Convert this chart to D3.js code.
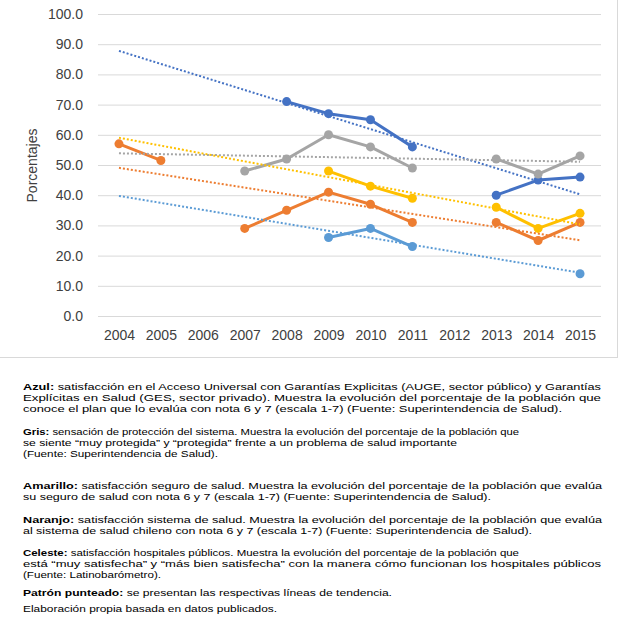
<!DOCTYPE html>
<html lang="es">
<head>
    <meta charset="UTF-8">
    <title>Satisfacción salud</title>
    <style>
        body { margin: 0; background: #fff; }
        text { font-family: "Liberation Sans", Arial, sans-serif; }
        .tick text { fill: #404040; font-size: 14px; }
        .caption { font-size: 12px; fill: #000; }
        .caption .b { font-weight: bold; }
    </style>
    <script src="https://d3js.org/d3.v7.min.js"></script>
</head>
<body>
    <svg width="620" height="622"></svg>
    <script>
        // data
        const years = ["2004", "2005", "2006", "2007", "2008", "2009", "2010", "2011", "2012", "2013", "2014", "2015"];
        const azul     = [null, null, null, null, 71, 67, 65, 56, null, 40, 45, 46];
        const naranjo  = [57, 51.5, null, 29, 35, 41, 37, 31, null, 31, 25, 31];
        const gris     = [null, null, null, 48, 52, 60, 56, 49, null, 52, 47, 53];
        const amarillo = [null, null, null, null, null, 48, 43, 39, null, 36, 29, 34];
        const celeste  = [null, null, null, null, null, 26, 29, 23, null, null, null, 14];
        const yTicks = [0, 10, 20, 30, 40, 50, 60, 70, 80, 90, 100];

        const series = [
            { name: "Azul", values: azul, color: "#4472C4" },
            { name: "Naranjo", values: naranjo, color: "#ED7D31" },
            { name: "Gris", values: gris, color: "#A5A5A5" },
            { name: "Amarillo", values: amarillo, color: "#FFC000" },
            { name: "Celeste", values: celeste, color: "#5B9BD5" }
        ];

        const svg = d3.select("svg");

        // chart frame (left/top edges fall outside the picture)
        svg.append("rect")
            .attr("x", -2).attr("y", -2)
            .attr("width", 619.5).attr("height", 359.5)
            .attr("fill", "none").attr("stroke", "#d9d9d9");

        const x = d3.scalePoint().domain(years).range([98, 601]).padding(0.5);
        const y = d3.scaleLinear().domain([0, 100]).range([316, 14]);

        // gridlines + y labels
        const yAxis = svg.append("g")
            .attr("transform", "translate(98,0)")
            .call(d3.axisLeft(y).tickValues(yTicks).tickFormat(d3.format(".1f"))
                .tickSize(-503).tickPadding(15));
        yAxis.select(".domain").remove();
        yAxis.selectAll(".tick line").attr("stroke", "#d9d9d9").attr("stroke-width", 1);

        const xAxis = svg.append("g")
            .attr("transform", "translate(0,316)")
            .call(d3.axisBottom(x).tickSize(0).tickPadding(14));
        xAxis.select(".domain").remove();

        svg.append("text")
            .attr("transform", "translate(37,165.5) rotate(-90)")
            .attr("text-anchor", "middle")
            .attr("font-size", 14)
            .attr("fill", "#404040")
            .text("Porcentajes");

        const line = d3.line()
            .defined(d => d.v != null)
            .x(d => x(d.year))
            .y(d => y(d.v));

        series.forEach(s => {
            const pts = years.map((yr, i) => ({ year: yr, v: s.values[i] }));
            svg.append("path")
                .datum(pts)
                .attr("d", line)
                .attr("fill", "none")
                .attr("stroke", s.color)
                .attr("stroke-width", 3)
                .attr("stroke-linejoin", "round");
            svg.append("g").selectAll("circle")
                .data(pts.filter(d => d.v != null))
                .join("circle")
                .attr("cx", d => x(d.year))
                .attr("cy", d => y(d.v))
                .attr("r", 4.5)
                .attr("fill", s.color);
        });

        // linear trend lines (least squares over category index)
        series.forEach(s => {
            const pts = s.values.map((v, i) => [i + 1, v]).filter(p => p[1] != null);
            const mx = d3.mean(pts, p => p[0]), my = d3.mean(pts, p => p[1]);
            const slope = d3.sum(pts, p => (p[0] - mx) * (p[1] - my)) / d3.sum(pts, p => (p[0] - mx) ** 2);
            const f = t => my + slope * (t - mx);
            svg.append("line")
                .attr("x1", x(years[0])).attr("y1", y(f(1)))
                .attr("x2", x(years[years.length - 1])).attr("y2", y(f(years.length)))
                .attr("stroke", s.color)
                .attr("stroke-width", 2)
                .attr("stroke-dasharray", "2 2");
        });

        // notes under the chart
        const notes = [
            { y: 390, w: 578, b: "Azul:", t: " satisfacción en el Acceso Universal con Garantías Explicitas (AUGE, sector público) y Garantías" },
            { y: 401, w: 578, b: "", t: "Explícitas en Salud (GES, sector privado). Muestra la evolución del porcentaje de la población que" },
            { y: 412, w: 539, b: "", t: "conoce el plan que lo evalúa con nota 6 y 7 (escala 1-7) (Fuente: Superintendencia de Salud)." },
            { y: 435, w: 496, b: "Gris:", t: " sensación de protección del sistema. Muestra la evolución del porcentaje de la población que" },
            { y: 446, w: 434, b: "", t: "se siente “muy protegida” y “protegida” frente a un problema de salud importante" },
            { y: 457, w: 195, b: "", t: "(Fuente: Superintendencia de Salud)." },
            { y: 489, w: 579, b: "Amarillo:", t: " satisfacción seguro de salud. Muestra la evolución del porcentaje de la población que evalúa" },
            { y: 500, w: 468, b: "", t: "su seguro de salud con nota 6 y 7 (escala 1-7) (Fuente: Superintendencia de Salud)." },
            { y: 523, w: 579, b: "Naranjo:", t: " satisfacción sistema de salud. Muestra la evolución del porcentaje de la población que evalúa" },
            { y: 534, w: 509, b: "", t: "al sistema de salud chileno con nota 6 y 7 (escala 1-7) (Fuente: Superintendencia de Salud)." },
            { y: 556, w: 496, b: "Celeste:", t: " satisfacción hospitales públicos. Muestra la evolución del porcentaje de la población que" },
            { y: 567, w: 578, b: "", t: "está “muy satisfecha” y “más bien satisfecha” con la manera cómo funcionan los hospitales públicos" },
            { y: 578, w: 138, b: "", t: "(Fuente: Latinobarómetro)." },
            { y: 596, w: 369, b: "Patrón punteado:", t: " se presentan las respectivas líneas de tendencia." },
            { y: 612, w: 254, b: "", t: "Elaboración propia basada en datos publicados." }
        ];

        // the source text is squeezed vertically, so scale each line in y
        const cap = svg.append("g").attr("class", "caption");
        notes.forEach(n => {
            const t = cap.append("text")
                .attr("transform", `translate(23,${n.y}) scale(1,0.78)`)
                .attr("textLength", n.w)
                .attr("lengthAdjust", "spacingAndGlyphs");
            if (n.b) t.append("tspan").attr("class", "b").text(n.b);
            t.append("tspan").text(n.t);
        });
    </script>
</body>
</html>
